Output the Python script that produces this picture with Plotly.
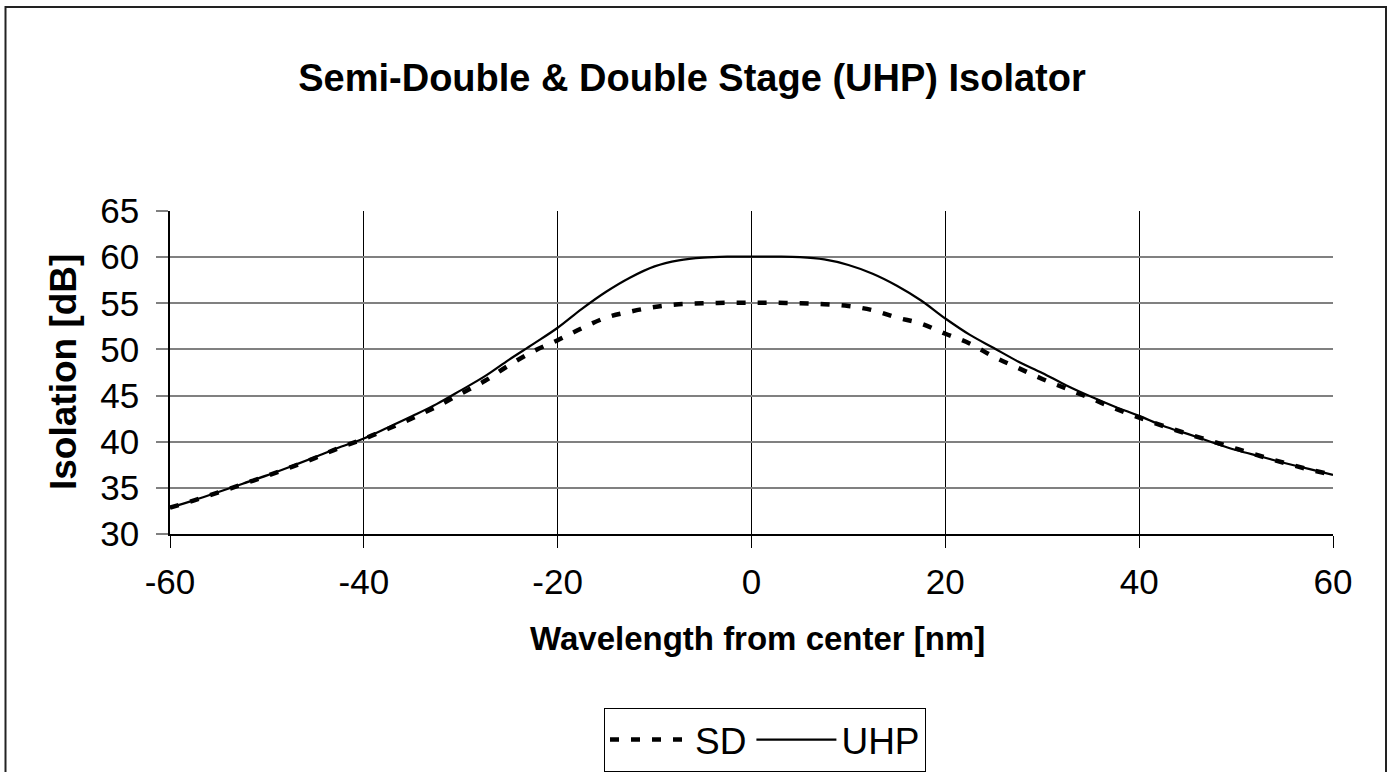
import plotly.graph_objects as go

wavelength = [-60, -57.5, -55, -52.5, -50, -47.5, -45, -42.5, -40, -37.5, -35, -32.5, -30,
              -27.5, -25, -22.5, -20, -17.5, -15, -12.5, -10, -7.5, -5, -2.5, 0,
              2.5, 5, 7.5, 10, 12.5, 15, 17.5, 20, 22.5, 25, 27.5, 30,
              32.5, 35, 37.5, 40, 42.5, 45, 47.5, 50, 52.5, 55, 57.5, 60]

sd = [32.85, 33.65, 34.5, 35.4, 36.3, 37.25, 38.25, 39.35, 40.3, 41.4, 42.55, 43.8, 45.2,
      46.6, 48.3, 49.8, 51.0, 52.3, 53.45, 54.1, 54.6, 54.9, 55.0, 55.05, 55.05,
      55.05, 55.0, 54.9, 54.7, 54.25, 53.45, 52.8, 51.7, 50.65, 49.2, 48.0, 46.8,
      45.75, 44.7, 43.6, 42.6, 41.7, 40.85, 40.05, 39.25, 38.45, 37.7, 37.0, 36.4]

uhp = [32.85, 33.67, 34.55, 35.45, 36.35, 37.33, 38.35, 39.4, 40.35, 41.55, 42.78, 44.07, 45.56,
       47.1, 48.9, 50.6, 52.35, 54.4, 56.25, 57.8, 59.0, 59.65, 59.95, 60.05, 60.05,
       60.05, 60.0, 59.75, 59.15, 58.2, 56.9, 55.3, 53.35, 51.6, 50.15, 48.7, 47.45,
       46.1, 44.9, 43.8, 42.8, 41.7, 40.85, 39.95, 39.1, 38.4, 37.7, 37.05, 36.4]

x_ticks = [-60, -40, -20, 0, 20, 40, 60]
y_ticks = [30, 35, 40, 45, 50, 55, 60, 65]

title_text = "Semi-Double & Double Stage (UHP) Isolator"
x_title = "Wavelength from center [nm]"
y_title = "Isolation [dB]"

FONT = "Liberation Sans, Arial, sans-serif"
W, H = 1390, 772
ML, MR, MT, MB = 170, 57, 211, 238
PW, PH = W - ML - MR, H - MT - MB


def px(xp):
    return (xp - ML) / PW


def py(yp):
    return (H - MB - yp) / PH


fig = go.Figure()
fig.add_trace(go.Scatter(x=wavelength, y=sd, mode="lines", name="SD",
                         line=dict(color="black", width=4.5, dash="9px,12px", shape="spline")))
fig.add_trace(go.Scatter(x=wavelength, y=uhp, mode="lines", name="UHP",
                         line=dict(color="black", width=2.2, shape="spline")))

fig.update_layout(
    width=W, height=H,
    margin=dict(l=ML, r=MR, t=MT, b=MB, pad=0, autoexpand=False),
    paper_bgcolor="white", plot_bgcolor="white",
    font=dict(family=FONT, color="black"),
    title=dict(text="<b>" + title_text + "</b>", font=dict(size=38, family=FONT, color="black"),
               x=692 / W, xref="container", xanchor="center",
               y=1 - 78 / H, yref="container", yanchor="middle"),
    showlegend=True,
    legend=dict(orientation="h", x=px(765), y=py(708), xanchor="center", yanchor="top",
                bordercolor="black", borderwidth=1, bgcolor="white",
                font=dict(size=37, family=FONT, color="black"),
                itemwidth=80, tracegroupgap=0),
    xaxis=dict(range=[-60, 60], tickvals=x_ticks, ticktext=[str(v) for v in x_ticks],
               showgrid=True, gridcolor="black", gridwidth=1,
               showline=True, linecolor="black", linewidth=1.5,
               ticks="outside", ticklen=12, tickcolor="black", tickwidth=1,
               tickfont=dict(size=35, family=FONT, color="black"), zeroline=False,
               ticklabelstandoff=4),
    yaxis=dict(range=[30, 65], tickvals=y_ticks, ticktext=[str(v) for v in y_ticks],
               showgrid=True, gridcolor="#808080", gridwidth=1.5,
               showline=True, linecolor="black", linewidth=1.5,
               ticks="outside", ticklen=12, tickcolor="#808080", tickwidth=1.5,
               tickfont=dict(size=35, family=FONT, color="black"), zeroline=False,
               ticklabelstandoff=10),
    annotations=[
        dict(text="<b>" + x_title + "</b>", xref="paper", yref="paper",
             x=px(757.5), y=py(638), xanchor="center", yanchor="middle",
             showarrow=False, font=dict(size=33, family=FONT, color="black")),
        dict(text="<b>" + y_title + "</b>", xref="paper", yref="paper",
             x=px(63), y=py(372), xanchor="center", yanchor="middle", textangle=-90,
             showarrow=False, font=dict(size=37, family=FONT, color="black")),
    ],
    shapes=[
        dict(type="rect", xref="paper", yref="paper",
             x0=px(5.5), x1=px(1386), y0=py(7), y1=py(780),
             line=dict(color="#222222", width=2), fillcolor="rgba(0,0,0,0)", layer="below"),
    ],
)

fig.write_html("out.html", config={"displayModeBar": False},
               post_script="document.body.style.margin='0';document.body.style.overflow='hidden';")
